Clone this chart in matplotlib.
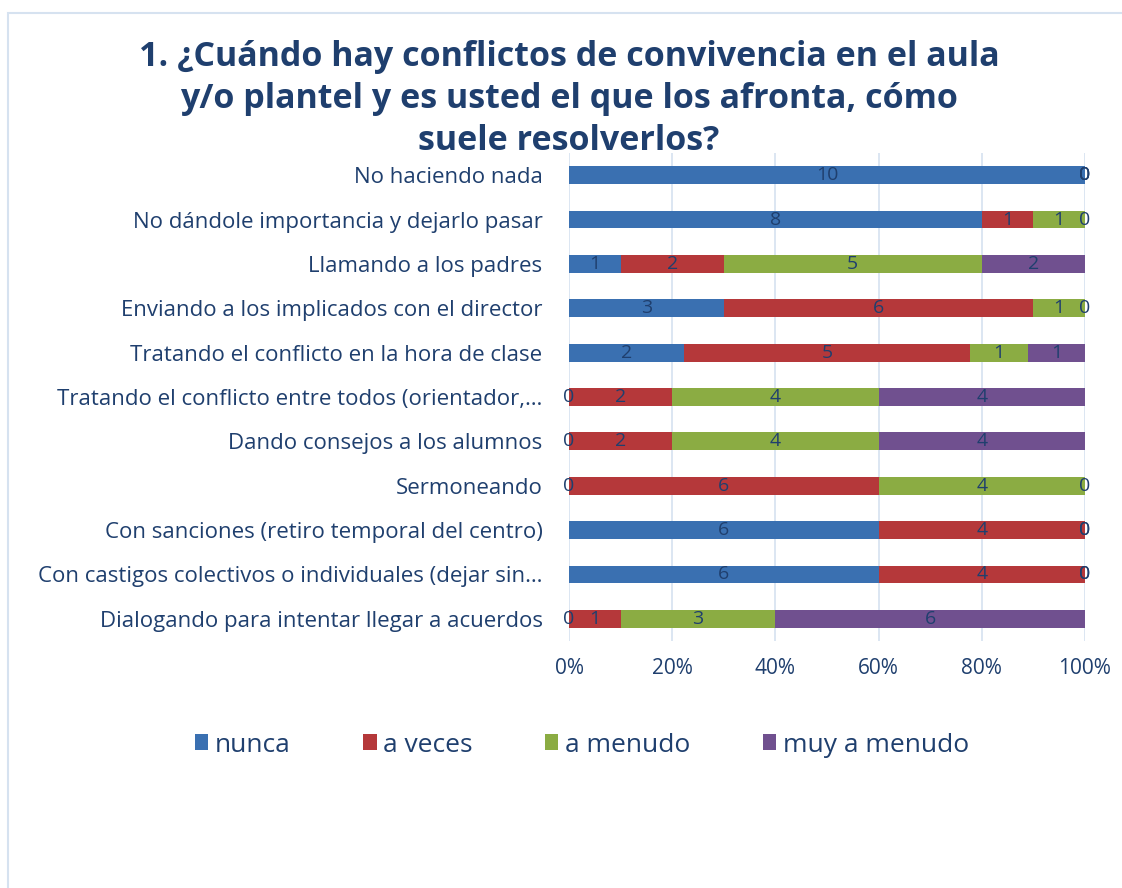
import matplotlib
matplotlib.use("Agg")
import matplotlib.pyplot as plt
from matplotlib.patches import Rectangle, Patch
import numpy as np

categories = [
    "No haciendo nada",
    "No dándole importancia y dejarlo pasar",
    "Llamando a los padres",
    "Enviando a los implicados con el director",
    "Tratando el conflicto en la hora de clase",
    "Tratando el conflicto entre todos (orientador,…",
    "Dando consejos a los alumnos",
    "Sermoneando",
    "Con sanciones (retiro temporal del centro)",
    "Con castigos colectivos o individuales (dejar sin…",
    "Dialogando para intentar llegar a acuerdos",
]
series_names = ["nunca", "a veces", "a menudo", "muy a menudo"]
nunca = [10, 8, 1, 3, 2, 0, 0, 0, 6, 6, 0]
a_veces = [0, 1, 2, 6, 5, 2, 2, 6, 4, 4, 1]
a_menudo = [0, 1, 5, 1, 1, 4, 4, 4, 0, 0, 3]
muy_a_menudo = [0, 0, 2, 0, 1, 4, 4, 0, 0, 0, 6]
colors = ["#3A70B1", "#B5383A", "#8BAC43", "#70508F"]
tick_labels = ["0%", "20%", "40%", "60%", "80%", "100%"]

text_color = "#1F3F6E"
font = "Open Sans"

W, H = 1122, 888
fig = plt.figure(figsize=(W / 100, H / 100), dpi=100)

# outer chart frame
fig.patches.append(Rectangle((8 / W, 0 - 0.1), 1.2, 1 - 13 / H + 0.1,
                             transform=fig.transFigure, fill=False,
                             edgecolor="#D6E2F0", linewidth=1.5))

ax = fig.add_axes([569 / W, 1 - 641 / H, (1085 - 569) / W, (641 - 153) / H])

data = np.array([nunca, a_veces, a_menudo, muy_a_menudo], dtype=float)
totals = data.sum(axis=0)
pct = data / totals * 100
y = np.arange(len(categories))
left = np.zeros(len(categories))
for i in range(4):
    ax.barh(y, pct[i], left=left, height=0.4, color=colors[i], zorder=3)
    for j in range(len(categories)):
        cx = left[j] + pct[i][j] / 2
        ax.text(cx, y[j], str(int(data[i][j])), ha="center", va="center",
                fontsize=14, color=text_color, family=font, zorder=4)
    left += pct[i]

ax.set_ylim(len(categories) - 0.5, -0.5)
ax.set_xlim(0, 100)
ax.set_xticks(np.arange(0, 101, 20))
ax.set_xticklabels(tick_labels, family=font, fontsize=15, color=text_color)
ax.set_yticks(y)
ax.set_yticklabels(categories, family=font, fontsize=16, color=text_color)
ax.tick_params(axis="both", length=0)
ax.tick_params(axis="y", pad=19)
ax.tick_params(axis="x", pad=12)
for s in ax.spines.values():
    s.set_visible(False)
ax.xaxis.grid(True, color="#D6E2F0", linewidth=1.2, zorder=0)
ax.set_axisbelow(True)

fig.text(569 / W, 1 - 99 / H,
         "1. ¿Cuándo hay conflictos de convivencia en el aula\ny/o plantel y es usted el que los afronta, cómo\nsuele resolverlos?",
         ha="center", va="center", fontsize=24.5, fontweight="bold",
         color=text_color, family=font, linespacing=1.3)

handles = [Patch(facecolor=c, edgecolor="none") for c in colors]
fig.legend(handles, series_names, loc="center", bbox_to_anchor=(582 / W, 1 - 745 / H),
           ncol=4, frameon=False, prop={"family": font, "size": 19},
           labelcolor=text_color, handlelength=0.5, handleheight=0.55,
           handletextpad=0.25, columnspacing=2.75)

fig.savefig("out.png", dpi=100)
